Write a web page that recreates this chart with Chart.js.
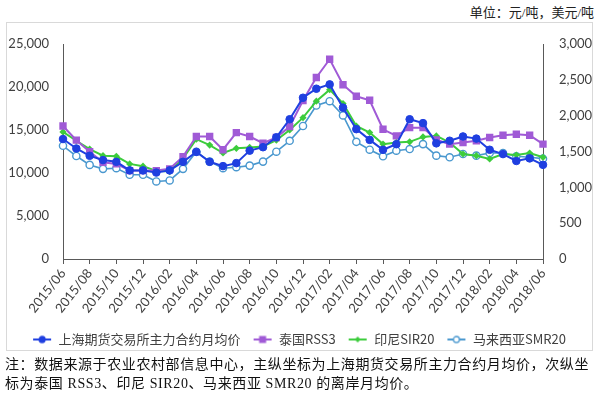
<!DOCTYPE html>
<html>
<head>
<meta charset="utf-8">
<script src="https://cdn.jsdelivr.net/npm/chart.js@4.4.1/dist/chart.umd.min.js"></script>
<style>
  html, body { margin: 0; padding: 0; background: #fff; }
  #wrap { position: relative; width: 600px; height: 396px; overflow: hidden; }
  #box { position: absolute; left: 6px; top: 22px; width: 587px; height: 329px; border: 1px solid #d9d9d9; box-sizing: border-box; }
  #unit { position: absolute; right: 6px; top: 2px; font: 13px 'Liberation Serif', 'Noto Sans CJK SC', serif; color: #222; }
  #note { position: absolute; left: 5px; top: 355px; width: 592px; font: 14px 'Liberation Serif', 'Noto Sans CJK SC', serif; color: #111; line-height: 19px; letter-spacing: 0.6px; white-space: nowrap; }
  canvas { position: absolute; left: 0; top: 0; }
</style>
</head>
<body>
<div id="wrap">
  <div id="box"></div>
  <div id="unit">单位：元/吨，美元/吨</div>
  <canvas id="c" width="600" height="396"></canvas>
  <div id="note">注：数据来源于农业农村部信息中心，主纵坐标为上海期货交易所主力合约月均价，次纵坐<br>标为泰国 RSS3、印尼 SIR20、马来西亚 SMR20 的离岸月均价。</div>
</div>
<script>
// ---- data ----
const months = [
  '2015/06','2015/07','2015/08','2015/09','2015/10','2015/11','2015/12',
  '2016/01','2016/02','2016/03','2016/04','2016/05','2016/06','2016/07','2016/08','2016/09','2016/10','2016/11','2016/12',
  '2017/01','2017/02','2017/03','2017/04','2017/05','2017/06','2017/07','2017/08','2017/09','2017/10','2017/11','2017/12',
  '2018/01','2018/02','2018/03','2018/04','2018/05','2018/06'
];
const seriesNames = ['上海期货交易所主力合约月均价', '泰国RSS3', '印尼SIR20', '马来西亚SMR20'];
const shfe = [13950, 12850, 12000, 11500, 11300, 10300, 10300, 10050, 10300, 11300, 12450, 11300, 10800, 11150, 12600, 13000, 14150, 16250, 18750,
  19800, 20300, 17600, 15100, 13850, 12700, 13350, 16250, 15800, 13450, 13750, 14250, 14000, 12700, 12200, 11400, 11700, 10950];
const thaiRSS3 = [1856, 1658, 1497, 1350, 1327, 1234, 1234, 1234, 1258, 1428, 1709, 1709, 1525, 1764, 1709, 1617, 1695, 1847, 2211,
  2533, 2787, 2432, 2271, 2215, 1810, 1718, 1833, 1833, 1663, 1603, 1626, 1649, 1695, 1727, 1741, 1727, 1603];
const indoSIR20 = [1773, 1650, 1534, 1442, 1433, 1327, 1295, 1230, 1220, 1405, 1672, 1589, 1479, 1544, 1557, 1571, 1658, 1801, 1972,
  2202, 2363, 2170, 1856, 1765, 1603, 1626, 1635, 1704, 1718, 1626, 1465, 1442, 1396, 1465, 1451, 1479, 1419];
const malaySMR20 = [1580, 1437, 1313, 1258, 1267, 1175, 1175, 1082, 1096, 1258, 1497, 1359, 1267, 1281, 1303, 1359, 1497, 1649, 1856,
  2142, 2202, 2004, 1635, 1525, 1433, 1511, 1534, 1603, 1442, 1419, 1465, 1442, 1479, 1479, 1433, 1419, 1400];
const leftTicks = [0, 5000, 10000, 15000, 20000, 25000];
const rightTicks = [0, 500, 1000, 1500, 2000, 2500, 3000];

// ---- styles ----
const C_BLUE = '#1f3fe0', C_PURPLE = '#a05ad6', C_GREEN = '#3ccc3c', C_LBLUE = '#4a98cf';

function legendIcon(color, style, fill) {
  const cv = document.createElement('canvas');
  cv.width = 20; cv.height = 10;
  const g = cv.getContext('2d');
  g.strokeStyle = color; g.lineWidth = 2;
  g.beginPath(); g.moveTo(1, 5); g.lineTo(19, 5); g.stroke();
  g.fillStyle = fill; g.lineWidth = 1.3;
  if (style === 'circle') { g.beginPath(); g.arc(10, 5, 3, 0, Math.PI * 2); g.fill(); g.stroke(); }
  else if (style === 'rect') { g.fillRect(6.5, 1.5, 7, 7); }
  else if (style === 'diamond') { g.beginPath(); g.moveTo(10, 2); g.lineTo(13, 5); g.lineTo(10, 8); g.lineTo(7, 5); g.closePath(); g.fill(); }
  return cv;
}
const icons = [
  legendIcon(C_BLUE, 'circle', C_BLUE),
  legendIcon(C_PURPLE, 'rect', C_PURPLE),
  legendIcon(C_GREEN, 'diamond', C_GREEN),
  legendIcon(C_LBLUE, 'circle', '#ffffff')
];

const tickFont = { family: "'Lato', 'Noto Sans', sans-serif", size: 13 };

new Chart(document.getElementById('c'), {
  type: 'line',
  data: {
    labels: months,
    datasets: [
      { label: seriesNames[0], data: shfe, yAxisID: 'y', borderColor: C_BLUE, backgroundColor: C_BLUE,
        borderWidth: 2, pointStyle: 'circle', pointRadius: 3.8, pointBorderWidth: 1, pointBackgroundColor: C_BLUE, pointBorderColor: C_BLUE },
      { label: seriesNames[1], data: thaiRSS3, yAxisID: 'y1', borderColor: C_PURPLE, backgroundColor: C_PURPLE,
        borderWidth: 2, pointStyle: 'rect', pointRadius: 5.2, pointBorderWidth: 0, pointBackgroundColor: C_PURPLE },
      { label: seriesNames[2], data: indoSIR20, yAxisID: 'y1', borderColor: C_GREEN, backgroundColor: C_GREEN,
        borderWidth: 2, pointStyle: 'rectRot', pointRadius: 3.6, pointBorderWidth: 0, pointBackgroundColor: C_GREEN },
      { label: seriesNames[3], data: malaySMR20, yAxisID: 'y1', borderColor: C_LBLUE, backgroundColor: '#fff',
        borderWidth: 1.6, pointStyle: 'circle', pointRadius: 3.6, pointBorderWidth: 1.4, pointBackgroundColor: '#ffffff', pointBorderColor: C_LBLUE }
    ]
  },
  options: {
    responsive: false,
    animation: false,
    layout: { padding: { left: 5, right: 7, top: 44, bottom: 40 } },
    elements: { line: { tension: 0 } },
    plugins: {
      tooltip: { enabled: false },
      legend: {
        position: 'bottom',
        labels: {
          usePointStyle: true,
          pointStyleWidth: 20,
          padding: 12,
          color: '#404040',
          font: { family: "'Noto Sans CJK SC', sans-serif", size: 13 },
          generateLabels(chart) {
            return chart.data.datasets.map((ds, i) => ({
              text: ds.label, pointStyle: icons[i], fillStyle: ds.borderColor, strokeStyle: ds.borderColor,
              lineWidth: 0, hidden: false, datasetIndex: i, fontColor: '#404040'
            }));
          }
        }
      }
    },
    scales: {
      x: {
        type: 'category',
        offset: false,
        afterFit(s) { s.height = 62; },
        grid: {
          display: true, drawOnChartArea: false, drawTicks: true, tickLength: 5,
          color: (ctx) => (ctx.index % 2 === 0 ? '#595959' : 'rgba(0,0,0,0)')
        },
        border: { display: true, color: '#595959', width: 1 },
        ticks: {
          autoSkip: false, maxRotation: 52, minRotation: 52, padding: 2,
          color: '#404040', font: tickFont,
          callback(v, i) { return i % 2 === 0 ? months[i] : ''; }
        }
      },
      y: {
        position: 'left', min: leftTicks[0], max: leftTicks[leftTicks.length - 1],
        afterFit(s) { s.width = 58; },
        afterBuildTicks(s) { s.ticks = leftTicks.map(v => ({ value: v })); },
        grid: { display: false },
        border: { display: true, color: '#595959', width: 1 },
        ticks: { color: '#404040', font: tickFont, padding: 6,
          callback(v) { return v.toLocaleString('en-US'); } }
      },
      y1: {
        position: 'right', min: rightTicks[0], max: rightTicks[rightTicks.length - 1],
        afterFit(s) { s.width = 50; },
        afterBuildTicks(s) { s.ticks = rightTicks.map(v => ({ value: v })); },
        grid: { display: false },
        border: { display: true, color: '#595959', width: 1 },
        ticks: { color: '#404040', font: tickFont, padding: 8,
          callback(v) { return v.toLocaleString('en-US'); } }
      }
    }
  }
});
</script>
</body>
</html>
